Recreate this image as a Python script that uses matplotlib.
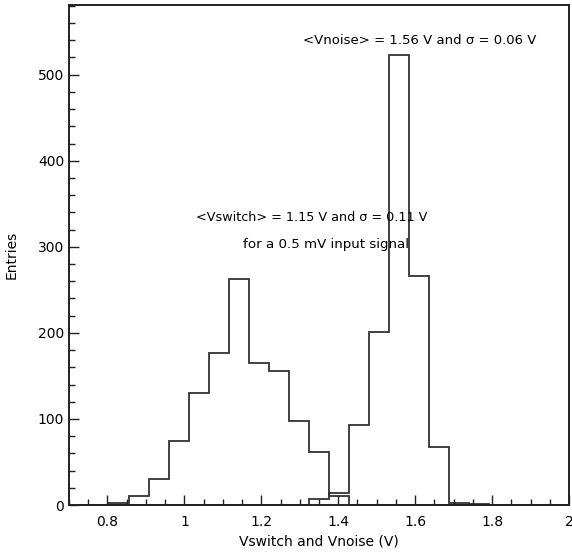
import numpy as np
import matplotlib
matplotlib.use("Agg")
import matplotlib.pyplot as plt
from matplotlib.ticker import MultipleLocator

# Data: 25 bins from 0.7 to 2.0
x_min, x_max, n_bins = 0.7, 2.0, 25
vswitch = [0, 0, 2, 10, 30, 74, 130, 177, 263, 165, 156, 98, 62, 10,
           0, 0, 0, 0, 0, 0, 0, 0, 0, 0, 0]
vnoise = [0, 0, 0, 0, 0, 0, 0, 0, 0, 0, 0, 0, 7, 14,
          93, 201, 523, 266, 67, 2, 1, 0, 0, 0, 0]
xticks = [0.8, 1.0, 1.2, 1.4, 1.6, 1.8, 2.0]
xtick_labels = ["0.8", "1", "1.2", "1.4", "1.6", "1.8", "2"]
yticks = [0, 100, 200, 300, 400, 500]

edges = np.linspace(x_min, x_max, n_bins + 1)

fig = plt.figure(figsize=(5.72, 5.52), dpi=100)
ax = fig.add_axes([0.1206, 0.0851, 0.8742, 0.9059])

ax.stairs(vswitch, edges, color="#333333", linewidth=1.3, baseline=0)
ax.stairs(vnoise, edges, color="#333333", linewidth=1.3, baseline=0)

ax.set_xlim(x_min, x_max)
ax.set_ylim(0, 581)
ax.set_xticks(xticks)
ax.set_xticklabels(xtick_labels)
ax.set_yticks(yticks)
ax.xaxis.set_minor_locator(MultipleLocator(0.05))
ax.yaxis.set_minor_locator(MultipleLocator(20))
ax.tick_params(which="both", direction="in", top=False, right=False,
               labelsize=10, width=1.0, color="#222222")
ax.tick_params(which="major", length=7)
ax.tick_params(which="minor", length=4)
ax.tick_params(axis="x", pad=7)
for s in ax.spines.values():
    s.set_linewidth(1.4)
    s.set_color("#222222")

ax.set_xlabel("Vswitch and Vnoise (V)", fontsize=10, labelpad=4)
ax.set_ylabel("Entries", fontsize=10, labelpad=14)

ax.text(1.308, 540, "<Vnoise> = 1.56 V and σ = 0.06 V", fontsize=9.5,
        ha="left", va="center")
ax.text(1.03, 334, "<Vswitch> = 1.15 V and σ = 0.11 V", fontsize=9.2,
        ha="left", va="center")
ax.text(1.152, 303, "for a 0.5 mV input signal", fontsize=9.6,
        ha="left", va="center")

fig.savefig("out.png", dpi=100)
